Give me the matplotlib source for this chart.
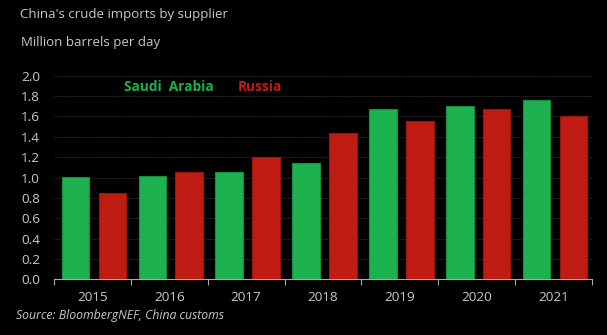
import numpy as np
import matplotlib.pyplot as plt

years = ['2015', '2016', '2017', '2018', '2019', '2020', '2021']
saudi = [1.01, 1.02, 1.05, 1.14, 1.67, 1.70, 1.76]
russia = [0.85, 1.05, 1.20, 1.44, 1.56, 1.67, 1.60]

green = '#1db14f'
red = '#bf1c13'
txt = '#c8c8c8'

plt.rcParams['font.family'] = ['Open Sans', 'DejaVu Sans']

fig = plt.figure(figsize=(6.07, 3.35), dpi=100, facecolor='black')
ax = fig.add_axes([0.089, 0.166, 0.886, 0.608], facecolor='black')

x = np.arange(len(years))
ax.bar(x - 0.22, saudi, width=0.36, color=green, edgecolor='#178f3f', linewidth=0.8, zorder=3)
ax.bar(x + 0.26, russia, width=0.36, color=red, edgecolor='#9a1710', linewidth=0.8, zorder=3)

ax.set_xlim(-0.5, len(years) - 0.5)
ax.set_ylim(0, 2.0)
ax.set_yticks(np.arange(0, 2.01, 0.2))
ax.set_yticklabels([f'{v:.1f}' for v in np.arange(0, 2.01, 0.2)])
ax.grid(axis='y', color='#333333', linestyle=(0, (1, 1)), linewidth=0.7, zorder=0)

# year labels centred in each group, ticks on the group boundaries
ax.set_xticks(np.arange(-0.5, len(years) + 0.5, 1))
ax.set_xticklabels([])
ax.set_xticks(x, minor=True)
ax.set_xticklabels(years, minor=True)
ax.tick_params(axis='x', which='major', length=4, color='#aaaaaa', direction='out')
ax.tick_params(axis='x', which='minor', length=0, pad=8, labelsize=9.7, labelcolor=txt)
ax.tick_params(axis='y', length=0, pad=10, labelsize=9.7, labelcolor=txt)

for s in ['top', 'right', 'left']:
    ax.spines[s].set_visible(False)
ax.spines['bottom'].set_color('#aaaaaa')

fig.text(0.033, 0.958, "China's crude imports by supplier", color=txt, fontsize=9.5, va='center')
fig.text(0.035, 0.874, 'Million barrels per day', color=txt, fontsize=9.5, va='center')
fig.text(0.204, 0.740, 'Saudi  Arabia', color=green, fontsize=9.8, fontweight='bold', va='center')
fig.text(0.392, 0.740, 'Russia', color=red, fontsize=9.8, fontweight='bold', va='center')
fig.text(0.027, 0.057, 'Source: BloombergNEF, China customs', color=txt, fontsize=8.8,
         style='italic', va='center')

fig.savefig('out.png', dpi=100, facecolor='black')
